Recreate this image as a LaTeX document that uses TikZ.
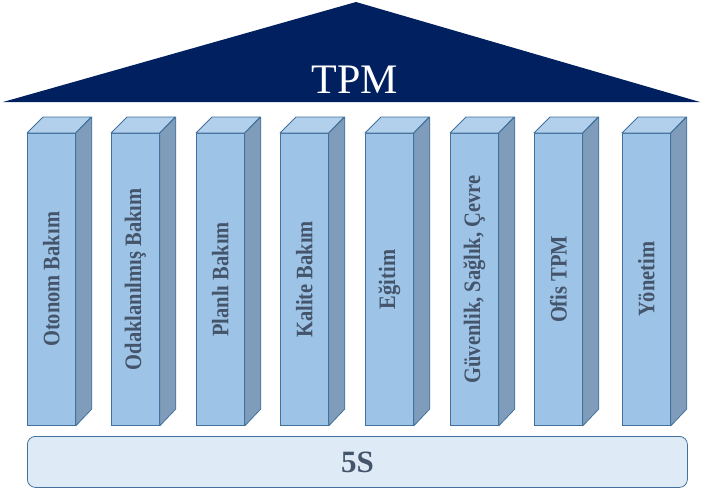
\documentclass[tikz,border=0pt]{standalone}
\usepackage{fontspec}
\setmainfont{Liberation Serif}
\usepackage{graphicx}
\definecolor{navy}{HTML}{002060}
\definecolor{frontc}{HTML}{9DC3E6}
\definecolor{topc}{HTML}{B2CFEB}
\definecolor{sidec}{HTML}{7F9DBA}
\definecolor{edgec}{HTML}{41719C}
\definecolor{basec}{HTML}{DEEAF6}
\definecolor{txtc}{HTML}{44546A}
\newcommand{\pilltext}[1]{\rotatebox{90}{\scalebox{1}[1.15]{#1}}}
\tikzset{
  roof/.style={fill=navy, draw=none},
  front/.style={draw=edgec, fill=frontc, line width=0.8pt, minimum width=48pt, minimum height=292pt, inner sep=0pt, anchor=north west,
    font=\fontsize{20.5}{20.5}\selectfont\bfseries, text=txtc},
  topface/.style={draw=edgec, fill=topc, line width=0.8pt, line join=round},
  sideface/.style={draw=edgec, fill=sidec, line width=0.8pt, line join=round},
  basebox/.style={draw=edgec, fill=basec, line width=0.8pt, rounded corners=8pt, minimum width=660pt, minimum height=51pt, inner sep=0pt, anchor=north west,
    font=\fontsize{31}{31}\selectfont\bfseries, text=txtc},
}
\begin{document}
\begin{tikzpicture}[x=1pt,y=-1pt]
\useasboundingbox (0,0) rectangle (701,491);
\coordinate (rl) at (3,102);
\coordinate (ra) at (356,2);
\coordinate (rr) at (700,102);
\fill[roof] (rl) -- (ra) -- (rr) -- cycle;
\node[text=white, font=\fontsize{42}{42}\selectfont, anchor=base] (tpm) at (355,93) {TPM};
\foreach \i/\x/\t in {1/27/Otonom Bakım, 2/111/Odaklanılmış Bakım, 3/196/Planlı Bakım, 4/280/Kalite Bakım, 5/365/Eğitim, 6/450/{Güvenlik, Sağlık, Çevre}, 7/534/Ofis TPM, 8/622/Yönetim}{
  \node[front] (p\i) at (\x,133) {\pilltext{\t}};
  \draw[topface] (p\i.north west) -- ++(16,-16) -- ++(48,0) -- (p\i.north east) -- cycle;
  \draw[sideface] (p\i.north east) -- ++(16,-16) -- ++(0,292) -- (p\i.south east) -- cycle;
}
\node[basebox] (base) at (27,436) {5S};
\end{tikzpicture}
\end{document}
